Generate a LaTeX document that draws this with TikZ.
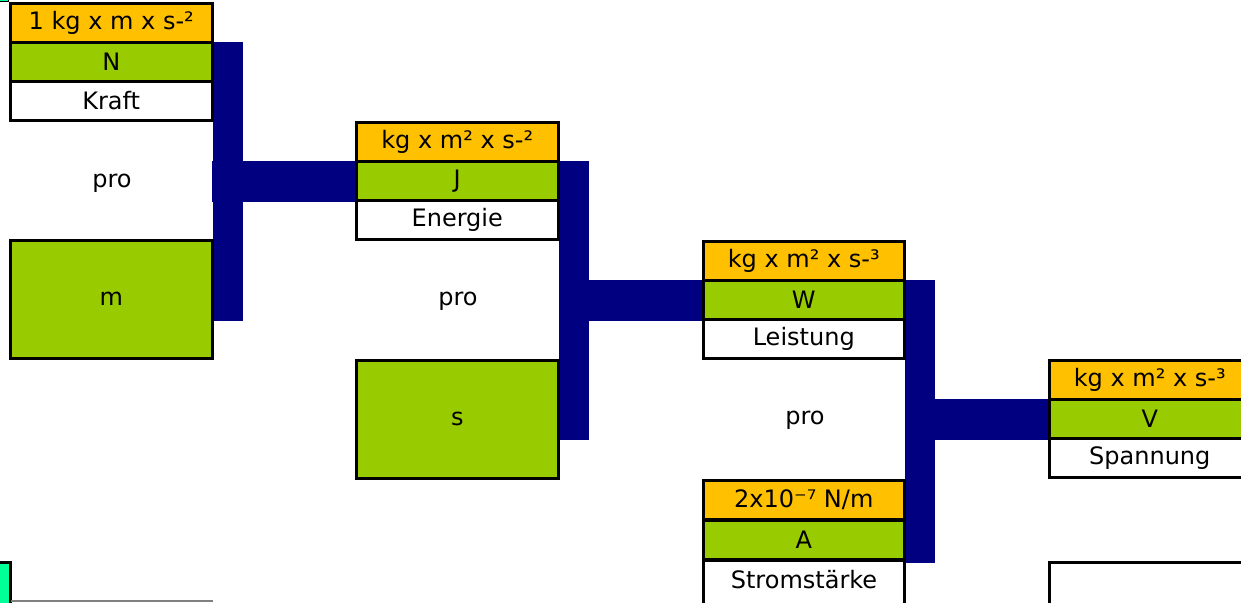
\documentclass[tikz,border=0pt]{standalone}
\usepackage{fontspec}
\setmainfont{DejaVu Sans}
\definecolor{cOrange}{RGB}{255,192,0}
\definecolor{cGreen}{RGB}{153,204,0}
\definecolor{cNavy}{RGB}{0,0,128}
\definecolor{cTeal}{RGB}{0,255,153}
\tikzset{
  cell/.style={draw=black, line width=3pt, minimum width=201.5pt, minimum height=39pt,
    inner sep=0pt, outer sep=0pt, anchor=north west,
    font=\fontsize{24}{28}\selectfont},
  orangecell/.style={cell, fill=cOrange},
  greencell/.style={cell, fill=cGreen},
  whitecell/.style={cell, fill=white},
  bigcell/.style={cell, fill=cGreen, minimum height=118.5pt},
  protext/.style={font=\fontsize{24}{28}\selectfont, inner sep=0pt},
  bar/.style={fill=cNavy}
}
\begin{document}
\begin{tikzpicture}[x=1pt,y=-1pt]
\useasboundingbox (0,0) rectangle (1241,602);
% corner fragments
\filldraw[fill=cTeal, draw=black, line width=1.5pt] (-10,-10) rectangle (8.5,1.5);
\filldraw[fill=cTeal, draw=black, line width=3pt] (-10,562) rectangle (10.5,615);
\draw[gray, line width=1.5pt] (10.5,601) -- (213,601);

% blue connector bars
\fill[bar] (213,42) rectangle (243,321);
\fill[bar] (212,161) rectangle (357,202);
\fill[bar] (559,161) rectangle (589,440);
\fill[bar] (559,280) rectangle (704,321);
\fill[bar] (905,280) rectangle (935,563);
\fill[bar] (905,399) rectangle (1050,440);

% group 1
\node[orangecell] (u1) at (10.5,3.5) {1 kg x m x s-²};
\node[greencell]  (n1) at (10.5,42.5) {N};
\node[whitecell]  (k1) at (10.5,81.5) {Kraft};
\node[protext] (p1) at (112,183) {pro};
\node[bigcell] (m1) at (10.5,240) {m};

% group 2
\node[orangecell] (u2) at (356.5,122.5) {kg x m² x s-²};
\node[greencell]  (n2) at (356.5,161.5) {J};
\node[whitecell]  (k2) at (356.5,200.5) {Energie};
\node[protext] (p2) at (458,301) {pro};
\node[bigcell] (s2) at (356.5,360) {s};

% group 3
\node[orangecell] (u3) at (703,241.5) {kg x m² x s-³};
\node[greencell]  (n3) at (703,280.5) {W};
\node[whitecell]  (k3) at (703,319.5) {Leistung};
\node[protext] (p3) at (805,420) {pro};
\node[orangecell] (u3b) at (703,480.5) {2x10⁻⁷ N/m};
\node[greencell]  (n3b) at (703,520.5) {A};
\node[whitecell, minimum height=50pt]  (k3b) at (703,560.5) {};
\node[font=\fontsize{24}{28}\selectfont, inner sep=0pt] (k3bt) at (804,580) {Stromstärke};

% group 4
\node[orangecell] (u4) at (1049,360.5) {kg x m² x s-³};
\node[greencell]  (n4) at (1049,399.5) {V};
\node[whitecell]  (k4) at (1049,438.5) {Spannung};
\node[whitecell, minimum height=60pt]  (e4) at (1049,562) {};
\end{tikzpicture}
\end{document}
